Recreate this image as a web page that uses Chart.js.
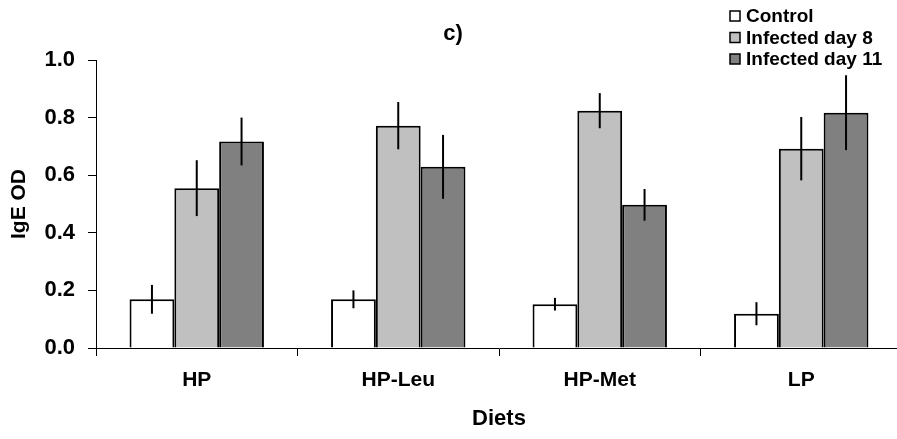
<!DOCTYPE html>
<html>
<head>
<meta charset="utf-8">
<script src="https://cdn.jsdelivr.net/npm/chart.js@4/dist/chart.umd.min.js"></script>
<style>
  html, body { margin:0; padding:0; background:#fff; overflow:hidden; }
  #wrap { width:904px; height:439px; position:relative; }
</style>
</head>
<body>
<div id="wrap"><canvas id="igeChart"></canvas></div>
<script>
// diets on the x axis
const diets = ['HP', 'HP-Leu', 'HP-Met', 'LP'];
const seriesNames = ['Control', 'Infected day 8', 'Infected day 11'];
// mean IgE OD per diet
const control = [0.169, 0.169, 0.152, 0.119];
const infected8 = [0.555, 0.772, 0.824, 0.692];
const infected11 = [0.717, 0.629, 0.497, 0.817];
// error bar half widths
const controlErr = [0.050, 0.031, 0.022, 0.040];
const infected8Err = [0.097, 0.082, 0.061, 0.110];
const infected11Err = [0.083, 0.111, 0.055, 0.130];
const yTicks = [0, 0.2, 0.4, 0.6, 0.8, 1.0];

const fills = ['#ffffff', '#c0c0c0', '#808080'];
const FONT = "'Liberation Sans', Arial, sans-serif";

const errorBars = {
  id: 'errorBars',
  afterDatasetsDraw(chart) {
    const ctx = chart.ctx;
    const y = chart.scales.y;
    ctx.save();
    ctx.strokeStyle = '#000';
    ctx.lineWidth = 2;
    chart.data.datasets.forEach((ds, i) => {
      chart.getDatasetMeta(i).data.forEach((bar, j) => {
        const v = ds.data[j], e = ds.err[j];
        ctx.beginPath();
        ctx.moveTo(bar.x, y.getPixelForValue(v + e));
        ctx.lineTo(bar.x, y.getPixelForValue(v - e));
        ctx.stroke();
      });
    });
    ctx.restore();
  }
};

// panel letter and the legend sit above the plot
const extras = {
  id: 'extras',
  afterDraw(chart) {
    const ctx = chart.ctx;
    ctx.save();
    ctx.fillStyle = '#000';
    ctx.font = 'bold 22px ' + FONT;
    ctx.textAlign = 'center';
    ctx.textBaseline = 'middle';
    ctx.fillText('c)', 453, 34);

    ctx.font = 'bold 19px ' + FONT;
    ctx.textAlign = 'left';
    chart.data.datasets.forEach((ds, i) => {
      const cy = 16 + i * 21.5;
      ctx.fillStyle = ds.backgroundColor;
      ctx.fillRect(730, cy - 5, 10, 10);
      ctx.strokeStyle = '#000';
      ctx.lineWidth = 1.5;
      ctx.strokeRect(730, cy - 5, 10, 10);
      ctx.fillStyle = '#000';
      ctx.fillText(ds.label, 746, cy + 1);
    });
    ctx.restore();
  }
};

const makeSet = (i, data, err) => ({
  label: seriesNames[i],
  data: data,
  err: err,
  backgroundColor: fills[i],
  borderColor: '#000',
  borderWidth: 2,
  borderSkipped: 'bottom',
  categoryPercentage: 0.667,
  barPercentage: 1.0
});

new Chart(document.getElementById('igeChart'), {
  type: 'bar',
  data: {
    labels: diets,
    datasets: [
      makeSet(0, control, controlErr),
      makeSet(1, infected8, infected8Err),
      makeSet(2, infected11, infected11Err)
    ]
  },
  options: {
    responsive: true,
    maintainAspectRatio: false,
    animation: false,
    layout: { padding: { top: 60, right: 2, bottom: 0, left: 0 } },
    plugins: { legend: { display: false }, title: { display: false }, tooltip: { enabled: false } },
    scales: {
      x: {
        afterFit: s => { s.height = 91; },
        grid: { offset: true, drawOnChartArea: false, color: '#000', tickLength: 8 },
        border: { color: '#000', width: 1 },
        ticks: { color: '#000', padding: 12, font: { family: FONT, size: 21, weight: 'bold' } },
        title: { display: true, text: 'Diets', color: '#000', padding: { top: 0, bottom: 7 },
                 font: { family: FONT, size: 22, weight: 'bold' } }
      },
      y: {
        min: 0, max: 1,
        afterFit: s => { s.width = 96; },
        afterBuildTicks: s => { s.ticks = yTicks.map(v => ({ value: v })); },
        grid: { drawOnChartArea: false, color: '#000', tickLength: 8 },
        border: { color: '#000', width: 1 },
        ticks: { color: '#000', padding: 13, callback: v => v.toFixed(1),
                 font: { family: FONT, size: 22, weight: 'bold' } },
        title: { display: true, text: 'IgE OD', color: '#000', padding: { top: 7, bottom: 0 },
                 font: { family: FONT, size: 21, weight: 'bold' } }
      }
    }
  },
  plugins: [errorBars, extras]
});
</script>
</body>
</html>
